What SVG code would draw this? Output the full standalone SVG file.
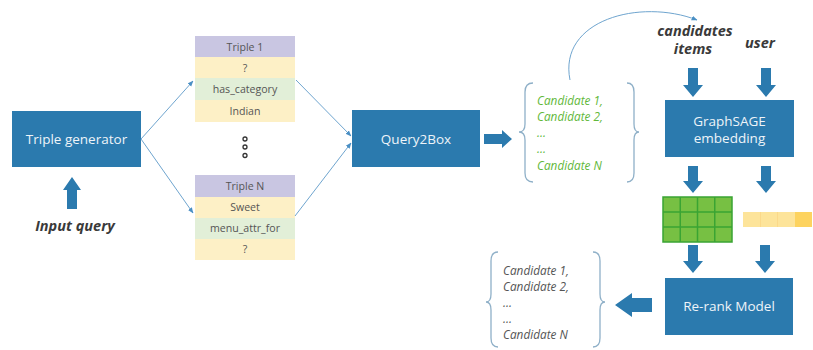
<svg xmlns="http://www.w3.org/2000/svg" width="813" height="350" viewBox="0 0 813 350">
<defs>
<marker id="ah" viewBox="0 0 10 10" refX="9" refY="5" markerWidth="6" markerHeight="6" orient="auto" markerUnits="userSpaceOnUse">
<path d="M0,1 L10,5 L0,9 Z" fill="#4a8fc4"/>
</marker>
<style>
.box{fill:#2b7aae;}
.bt{font-family:"Open Sans","Liberation Sans",sans-serif;font-size:13.5px;fill:#eef4f9;text-anchor:middle;}
.cell{font-family:"Open Sans","Liberation Sans",sans-serif;font-size:10.6px;fill:#555555;text-anchor:middle;}
.pur{fill:#c9c6e2;}
.yel{fill:#fdf0c6;}
.grn{fill:#e2efd8;}
.ln{stroke:#6fa5cf;stroke-width:1;fill:none;marker-end:url(#ah);}
.blk{fill:#2b7aae;}
.brace{fill:none;stroke:#8fb0c8;stroke-width:1.3;}
.gc{font-family:"Open Sans","Liberation Sans",sans-serif;font-style:italic;font-size:11.8px;fill:#62b83a;}
.gr{font-family:"Open Sans","Liberation Sans",sans-serif;font-style:italic;font-size:11.8px;fill:#555555;}
.lab{font-family:"Open Sans","Liberation Sans",sans-serif;font-style:italic;font-weight:bold;font-size:14.5px;fill:#3a3a3a;text-anchor:middle;}
.dot{fill:none;stroke:#333;stroke-width:1.3;}
</style>
</defs>
<rect width="813" height="350" fill="#ffffff"/>

<g id="triple-generator">
<rect class="box" x="12" y="111" width="129" height="56"/>
<text class="bt" x="76.5" y="144">Triple generator</text>
</g>

<g id="input-query">
<polygon class="blk" points="67,190 67,209 77,209 77,190 81,190 72,177 63,190"/>
<text class="lab" x="75" y="231">Input query</text>
</g>

<g id="triple-1">
<rect class="pur" x="195" y="36" width="100" height="21"/>
<rect class="yel" x="195" y="57" width="100" height="21"/>
<rect class="grn" x="195" y="78" width="100" height="22"/>
<rect class="yel" x="195" y="100" width="100" height="22"/>
<text class="cell" x="245" y="50.5">Triple 1</text>
<text class="cell" x="245" y="71.5">?</text>
<text class="cell" x="245" y="93">has_category</text>
<text class="cell" x="245" y="115">Indian</text>
</g>

<g id="ellipsis">
<circle class="dot" cx="245" cy="139" r="2"/>
<circle class="dot" cx="245" cy="147" r="2"/>
<circle class="dot" cx="245" cy="155.5" r="2"/>
</g>

<g id="triple-n">
<rect class="pur" x="195" y="175" width="100" height="22"/>
<rect class="yel" x="195" y="197" width="100" height="21"/>
<rect class="grn" x="195" y="218" width="100" height="21"/>
<rect class="yel" x="195" y="239" width="100" height="21"/>
<text class="cell" x="245" y="190">Triple N</text>
<text class="cell" x="245" y="211">Sweet</text>
<text class="cell" x="245" y="232">menu_attr_for</text>
<text class="cell" x="245" y="253">?</text>
</g>

<g id="query2box">
<rect class="box" x="352" y="110" width="128" height="57"/>
<text class="bt" x="416" y="143.5">Query2Box</text>
</g>

<g id="candidates-green">
<path class="brace" d="M533,83 Q525,83 525,92 L525,124 Q525,132 519,132 Q525,132 525,140 L525,173 Q525,182 533,182"/>
<path class="brace" d="M627,83 Q634,83 634,92 L634,124 Q634,132 639,132 Q634,132 634,140 L634,173 Q634,182 627,182"/>
<text class="gc" x="537" y="105">Candidate 1,</text>
<text class="gc" x="537" y="121">Candidate 2,</text>
<text class="gc" x="537" y="137">...</text>
<text class="gc" x="537" y="153">...</text>
<text class="gc" x="537" y="170">Candidate N</text>
</g>

<g id="label-candidates-items">
<text class="lab" x="695" y="36">candidates</text>
<text class="lab" x="693" y="54">items</text>
</g>
<g id="label-user">
<text class="lab" x="760" y="48">user</text>
</g>

<g id="graphsage">
<rect class="box" x="665" y="100" width="129" height="57"/>
<text class="bt" x="729.5" y="126">GraphSAGE</text>
<text class="bt" x="729.5" y="143">embedding</text>
</g>

<g id="item-embedding">
<rect x="663" y="197" width="69" height="45" fill="#77c043" stroke="#3aa433" stroke-width="1.5"/>
<path d="M680.25,197 V242 M697.5,197 V242 M714.75,197 V242 M663,212 H732 M663,227 H732" stroke="#3aa433" stroke-width="1.5"/>
</g>

<g id="user-embedding">
<rect x="743" y="212" width="52" height="15" fill="#fde49a"/>
<rect x="795" y="212" width="17" height="15" fill="#fdd35f"/>
<path d="M760.5,212 V227 M777.5,212 V227" stroke="#fbd98a" stroke-width="1"/>
</g>

<g id="rerank">
<rect class="box" x="665" y="278" width="128" height="57"/>
<text class="bt" x="729" y="311">Re-rank Model</text>
</g>

<g id="candidates-grey">
<path class="brace" d="M498,252 Q491,252 491,261 L491,294 Q491,302 486,302 Q491,302 491,310 L491,338 Q491,347 498,347"/>
<path class="brace" d="M593,252 Q600,252 600,261 L600,294 Q600,302 605,302 Q600,302 600,310 L600,338 Q600,347 593,347"/>
<text class="gr" x="503" y="275">Candidate 1,</text>
<text class="gr" x="503" y="291">Candidate 2,</text>
<text class="gr" x="503" y="307">...</text>
<text class="gr" x="503" y="323">...</text>
<text class="gr" x="503" y="339">Candidate N</text>
</g>

<g id="connectors">
<line class="ln" x1="141" y1="139" x2="193" y2="81"/>
<line class="ln" x1="141" y1="139" x2="193" y2="213"/>
<line class="ln" x1="296" y1="80" x2="351" y2="136"/>
<line class="ln" x1="295" y1="216" x2="351" y2="143"/>
<path class="ln" d="M570,80 C558,20 640,-2 697,20"/>
<polygon class="blk" points="484,134 502,134 502,130 512,139 502,148 502,144 484,144"/>
<polygon class="blk" points="688,68 698,68 698,85 703,85 693,97 683,85 688,85"/>
<polygon class="blk" points="761,68 771,68 771,85 776,85 766,97 756,85 761,85"/>
<polygon class="blk" points="688,166 698,166 698,181 703,181 693,193 683,181 688,181"/>
<polygon class="blk" points="761,166 771,166 771,181 776,181 766,193 756,181 761,181"/>
<polygon class="blk" points="688,245 698,245 698,261 703,261 693,273 683,261 688,261"/>
<polygon class="blk" points="760,245 770,245 770,261 775,261 765,273 755,261 760,261"/>
<polygon class="blk" points="652,298 632,298 632,293 615,305 632,317 632,312 652,312"/>
</g>
</svg>
